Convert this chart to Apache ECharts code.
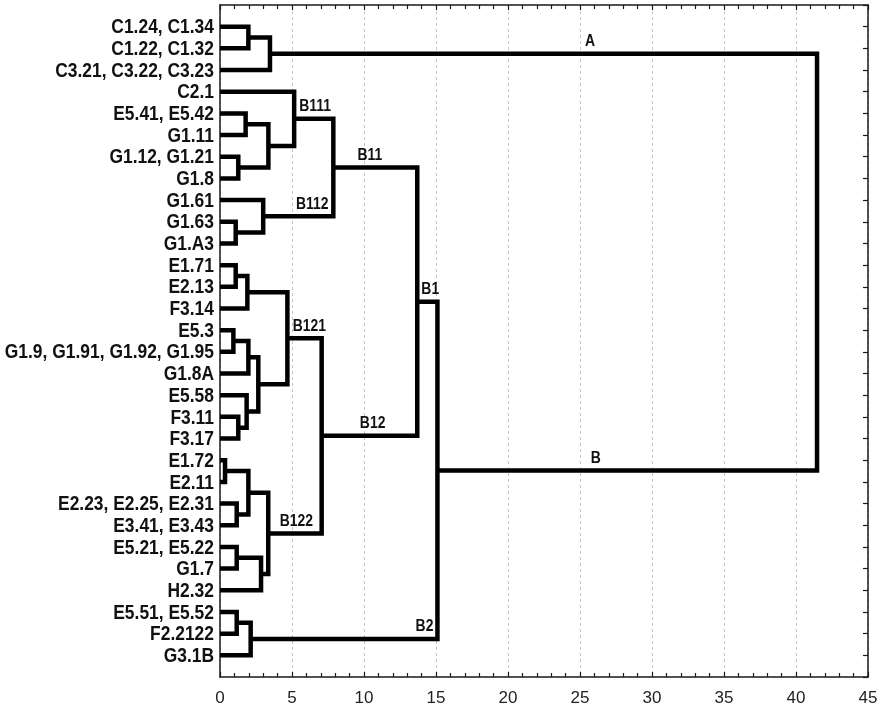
<!DOCTYPE html>
<html>
<head>
<meta charset="utf-8">
<script src="https://cdn.jsdelivr.net/npm/echarts@6/dist/echarts.min.js"></script>
<style>
  html, body { margin: 0; padding: 0; background: #fff; }
  #dendro { width: 880px; height: 710px; }
</style>
</head>
<body>
<div id="dendro"></div>
<script>
// Leaves, top to bottom
var leafNames = [
    'C1.24, C1.34', 'C1.22, C1.32', 'C3.21, C3.22, C3.23', 'C2.1',
    'E5.41, E5.42', 'G1.11', 'G1.12, G1.21', 'G1.8', 'G1.61', 'G1.63',
    'G1.A3', 'E1.71', 'E2.13', 'F3.14', 'E5.3', 'G1.9, G1.91, G1.92, G1.95',
    'G1.8A', 'E5.58', 'F3.11', 'F3.17', 'E1.72', 'E2.11',
    'E2.23, E2.25, E2.31', 'E3.41, E3.43', 'E5.21, E5.22', 'G1.7', 'H2.32',
    'E5.51, E5.52', 'F2.2122', 'G3.1B'
];

// Merges (linkage style): leaf ids 0..29, merged node k gets id 30 + k
var mergeLeft   = [0, 30, 4, 6, 32, 3, 9, 8, 35, 11, 39, 14, 41, 18, 17, 42, 40, 20, 22, 47, 24, 50, 49, 46, 38, 27, 55, 54, 31];
var mergeRight  = [1, 2, 5, 7, 33, 34, 10, 36, 37, 12, 13, 15, 16, 19, 43, 44, 45, 21, 23, 48, 25, 26, 51, 52, 53, 28, 29, 56, 57];
var mergeHeight = [1.97, 3.47, 1.78, 1.27, 3.36, 5.15, 1.09, 3.0, 7.87, 1.09, 1.9, 0.93, 1.97, 1.27, 1.85, 2.66, 4.68,
                   0.35, 1.16, 1.97, 1.16, 2.85, 3.35, 7.06, 13.7, 1.16, 2.13, 15.1, 41.46];

// Cluster names written above the branch leaving a node
var clusterNames = ['A', 'B', 'B1', 'B11', 'B12', 'B111', 'B112', 'B121', 'B122', 'B2'];
var clusterNode  = [31, 57, 54, 38, 53, 35, 37, 46, 52, 56];
var clusterX     = [25.7, 26.1, 14.6, 10.4, 10.6, 6.6, 6.4, 6.2, 5.3, 14.2];

var xTicks = [0, 5, 10, 15, 20, 25, 30, 35, 40, 45];

var sans = '"Liberation Sans", Arial, sans-serif';

// positions of every node
var pos = [];
leafNames.forEach(function (name, i) {
    pos.push([0, i + 1]);
});
var branches = [];
mergeLeft.forEach(function (a, k) {
    var b = mergeRight[k];
    var h = mergeHeight[k];
    var pa = pos[a], pb = pos[b];
    pos.push([h, (pa[1] + pb[1]) / 2]);
    branches.push({ coords: [[pa[0], pa[1]], [h, pa[1]], [h, pb[1]], [pb[0], pb[1]]] });
});

var leafData = leafNames.map(function (name, i) { return pos[i]; });
var clusterData = clusterNames.map(function (name, i) {
    return [clusterX[i], pos[clusterNode[i]][1]];
});

var chart = echarts.init(document.getElementById('dendro'));

function frameLine() {
    return { show: true, onZero: false, lineStyle: { color: '#1a1a1a', width: 1.5 } };
}
var tickStyle = { color: '#1a1a1a', width: 1.2 };

var option = {
    animation: false,
    backgroundColor: '#fff',
    grid: { left: 220, right: 12, top: 5, bottom: 33, containLabel: false, outerBoundsMode: 'none' },
    xAxis: [{
        type: 'value',
        position: 'bottom',
        min: 0, max: 45, interval: 5,
        axisLine: frameLine(),
        axisTick: { show: true, inside: true, length: 5, lineStyle: tickStyle },
        minorTick: { show: true, splitNumber: 5, length: 4, lineStyle: tickStyle },
        axisLabel: {
            margin: 13, color: '#222', fontSize: 17, fontFamily: sans,
            formatter: function (v) { return xTicks.indexOf(v) >= 0 ? String(v) : ''; }
        },
        splitLine: { show: true, lineStyle: { color: '#c4c4c4', type: [3, 3], width: 1 } }
    }, {
        type: 'value',
        position: 'top',
        min: 0, max: 45, interval: 5,
        axisLine: frameLine(),
        axisTick: { show: true, inside: true, length: 5, lineStyle: tickStyle },
        minorTick: { show: true, splitNumber: 5, length: 4, lineStyle: tickStyle },
        axisLabel: { show: false },
        splitLine: { show: false }
    }],
    yAxis: [{
        type: 'value',
        position: 'left',
        inverse: true,
        min: 0, max: 31, interval: 1,
        axisLine: frameLine(),
        axisTick: { show: false },
        axisLabel: { show: false },
        splitLine: { show: false }
    }, {
        type: 'value',
        position: 'right',
        inverse: true,
        min: 0, max: 31, interval: 1,
        axisLine: frameLine(),
        axisTick: { show: true, inside: true, length: 5, lineStyle: tickStyle },
        axisLabel: { show: false },
        splitLine: { show: false }
    }],
    series: [{
        type: 'lines',
        coordinateSystem: 'cartesian2d',
        polyline: true,
        silent: true,
        lineStyle: { color: '#000', width: 4.5, opacity: 1, cap: 'butt', join: 'miter' },
        data: branches,
        z: 5
    }, {
        // leaf names, drawn narrow like the original condensed face
        type: 'custom',
        coordinateSystem: 'cartesian2d',
        silent: true,
        clip: false,
        data: leafData,
        renderItem: function (params, api) {
            var p = api.coord([api.value(0), api.value(1)]);
            return {
                type: 'text',
                x: p[0] - 6,
                y: p[1] + 1,
                scaleX: 0.85,
                style: {
                    text: leafNames[params.dataIndex],
                    align: 'right',
                    verticalAlign: 'middle',
                    fontSize: 20.5,
                    fontWeight: 'bold',
                    fontFamily: sans,
                    fill: '#111'
                }
            };
        },
        z: 6
    }, {
        type: 'custom',
        coordinateSystem: 'cartesian2d',
        silent: true,
        clip: false,
        data: clusterData,
        renderItem: function (params, api) {
            var p = api.coord([api.value(0), api.value(1)]);
            return {
                type: 'text',
                x: p[0],
                y: p[1] - 4,
                scaleX: 0.87,
                style: {
                    text: clusterNames[params.dataIndex],
                    align: 'center',
                    verticalAlign: 'bottom',
                    fontSize: 16,
                    fontWeight: 'bold',
                    fontFamily: sans,
                    fill: '#111'
                }
            };
        },
        z: 6
    }]
};

chart.setOption(option);
</script>
</body>
</html>
